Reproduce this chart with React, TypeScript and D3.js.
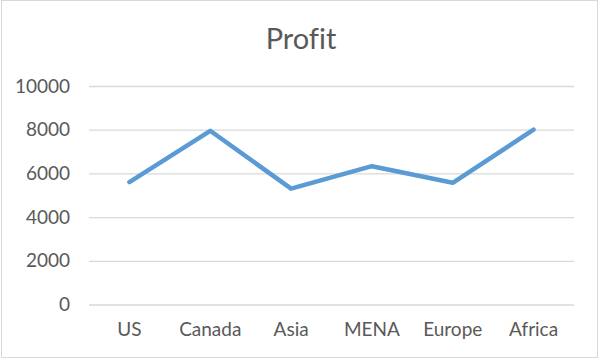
import * as d3 from "d3";
import React from "react";

const categories = ["US", "Canada", "Asia", "MENA", "Europe", "Africa"];
const profit = [5600, 7950, 5300, 6330, 5570, 8000];
const yTicks = [0, 2000, 4000, 6000, 8000, 10000];

export default function App() {
  const ref = React.useRef<SVGSVGElement>(null);

  React.useEffect(() => {
    const w = 599;
    const h = 359;
    const margin = { top: 86, right: 25, bottom: 54.5, left: 89 };
    const width = w - margin.left - margin.right;
    const height = h - margin.top - margin.bottom;
    const font = "Lato, 'Open Sans', sans-serif";
    const grey = "#595959";

    const svg = d3.select(ref.current);
    svg.selectAll("*").remove();

    // chart border
    svg
      .append("rect")
      .attr("x", 1.5)
      .attr("y", 0.5)
      .attr("width", w - 3)
      .attr("height", h - 2)
      .attr("fill", "#fff")
      .attr("stroke", "#d9d9d9");

    const g = svg
      .append("g")
      .attr("transform", `translate(${margin.left}, ${margin.top})`);

    const x = d3.scaleBand().domain(categories).range([0, width]);
    const y = d3.scaleLinear().domain([0, 10000]).range([height, 0]);

    // gridlines
    g.append("g")
      .call(d3.axisLeft(y).tickValues(yTicks).tickSize(-width).tickFormat(() => ""))
      .call((a) => a.select(".domain").remove())
      .call((a) => a.selectAll("line").attr("stroke", "#d9d9d9").attr("stroke-width", 1.3));

    // y labels
    g.append("g")
      .attr("transform", "translate(-19, 0)")
      .call(d3.axisLeft(y).tickValues(yTicks).tickSize(0).tickPadding(0).tickFormat(d3.format("d")))
      .call((a) => a.select(".domain").remove())
      .call((a) =>
        a.selectAll("text").attr("fill", grey).style("font-family", font).style("font-size", "19px")
      );

    // x labels
    g.append("g")
      .attr("transform", `translate(0, ${height})`)
      .call(d3.axisBottom(x).tickSize(0).tickPadding(18))
      .call((a) => a.select(".domain").remove())
      .call((a) =>
        a.selectAll("text").attr("fill", grey).style("font-family", font).style("font-size", "19px")
      );

    // line
    const line = d3
      .line<number>()
      .x((d, i) => (x(categories[i]) as number) + x.bandwidth() / 2)
      .y((d) => y(d));

    g.append("path")
      .datum(profit)
      .attr("fill", "none")
      .attr("stroke", "#5b9bd5")
      .attr("stroke-width", 4.5)
      .attr("stroke-linecap", "round")
      .attr("stroke-linejoin", "round")
      .attr("d", line);

    // title
    svg
      .append("text")
      .attr("x", 301)
      .attr("y", 49)
      .attr("text-anchor", "middle")
      .attr("fill", grey)
      .style("font-family", font)
      .style("font-size", "29px")
      .style("font-variant-ligatures", "none")
      .text("Profit");
  }, []);

  return (
    <svg
      ref={ref}
      width={599}
      height={359}
      style={{ position: "absolute", left: 0, top: 0 }}
    />
  );
}
